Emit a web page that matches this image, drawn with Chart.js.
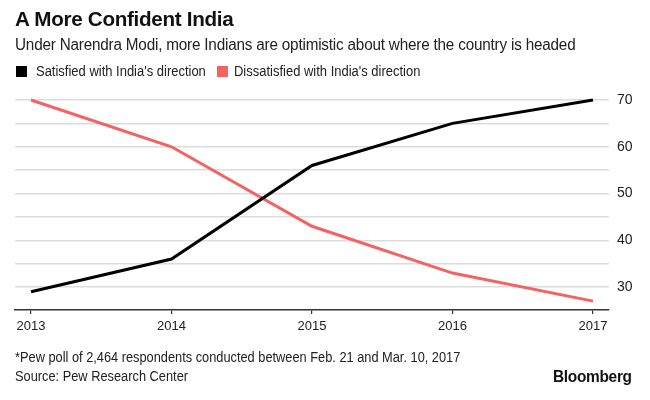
<!DOCTYPE html>
<html>
<head>
<meta charset="utf-8">
<script src="https://cdn.jsdelivr.net/npm/chart.js@4/dist/chart.umd.min.js"></script>
<style>
  html, body { margin: 0; padding: 0; background: #fff; }
  body { width: 650px; height: 400px; position: relative; overflow: hidden; font-family: "Liberation Sans", Arial, sans-serif; color: #111; }
  #wrap { position: absolute; left: 0; top: 0; width: 650px; height: 400px; }
  .t { position: absolute; white-space: nowrap; transform-origin: left top; }
  #title { left: 15px; top: 7px; font-size: 21px; font-weight: bold; letter-spacing: -0.3px; transform: scaleX(0.982); }
  #sub { left: 15px; top: 36px; font-size: 16px; color: #222; letter-spacing: -0.2px; transform: scaleX(0.954); }
  .sw { position: absolute; width: 11px; height: 11px; top: 66px; }
  .lg { top: 63px; font-size: 14px; color: #222; transform: scaleX(0.927); }
  #note { left: 15px; top: 349px; font-size: 14px; color: #222; transform: scaleX(0.914); }
  #src { left: 15px; top: 368px; font-size: 14px; color: #222; transform: scaleX(0.915); }
  #brand { left: 553px; top: 368px; font-size: 16px; font-weight: bold; letter-spacing: -0.3px; transform: scaleX(0.963); }
</style>
</head>
<body>
<div id="wrap"><canvas id="c" width="650" height="400"></canvas></div>
<div class="t" id="title">A More Confident India</div>
<div class="t" id="sub">Under Narendra Modi, more Indians are optimistic about where the country is headed</div>
<div class="sw" style="left:16px;background:#000"></div>
<div class="t lg" style="left:36px">Satisfied with India's direction</div>
<div class="sw" style="left:217px;background:#f46262"></div>
<div class="t lg" style="left:234px">Dissatisfied with India's direction</div>
<div class="t" id="note">*Pew poll of 2,464 respondents conducted between Feb. 21 and Mar. 10, 2017</div>
<div class="t" id="src">Source: Pew Research Center</div>
<div class="t" id="brand">Bloomberg</div>
<script>
const years = [2013, 2014, 2015, 2016, 2017];
const satisfied = [29, 36, 56, 65, 70];
const dissatisfied = [70, 60, 43, 33, 27];
const yGridValues = [30, 35, 40, 45, 50, 55, 60, 65, 70];
const yLabelValues = [30, 40, 50, 60, 70];

new Chart(document.getElementById('c'), {
  type: 'line',
  data: {
    datasets: [
      { label: "Satisfied with India's direction", data: years.map((y, i) => ({x: y, y: satisfied[i]})),
        borderColor: '#000', backgroundColor: '#000', borderWidth: 3, pointRadius: 0, tension: 0, clip: false },
      { label: "Dissatisfied with India's direction", data: years.map((y, i) => ({x: y, y: dissatisfied[i]})),
        borderColor: '#f46262', backgroundColor: '#f46262', borderWidth: 3, pointRadius: 0, tension: 0, clip: false }
    ]
  },
  options: {
    responsive: false,
    animation: false,
    events: [],
    layout: { padding: { left: 15, top: 100, right: 0, bottom: 0 } },
    plugins: { legend: { display: false }, tooltip: { enabled: false }, title: { display: false } },
    scales: {
      x: {
        type: 'linear',
        min: 2012.886, max: 2017.114,
        afterBuildTicks: s => { s.ticks = years.map(v => ({ value: v })); },
        afterFit: s => { s.height = 90; },
        border: { display: true, color: '#333', width: 1.5 },
        grid: { drawOnChartArea: false, drawTicks: true, tickLength: 4, color: '#333', lineWidth: 1.2 },
        ticks: { color: '#222', font: { size: 13, family: '"Liberation Sans", Arial, sans-serif' }, padding: 5, maxRotation: 0,
          callback: v => String(v) }
      },
      y: {
        position: 'right',
        min: 25.1, max: 70,
        afterBuildTicks: s => { s.ticks = yGridValues.map(v => ({ value: v })); },
        afterFit: s => { s.width = 41; },
        border: { display: false },
        grid: { drawTicks: false, color: '#dcdcdc', lineWidth: 1.5 },
        ticks: { color: '#222', font: { size: 14, family: '"Liberation Sans", Arial, sans-serif' }, padding: 8,
          callback: v => yLabelValues.includes(v) ? String(v) : '' }
      }
    }
  }
});
</script>
</body>
</html>
